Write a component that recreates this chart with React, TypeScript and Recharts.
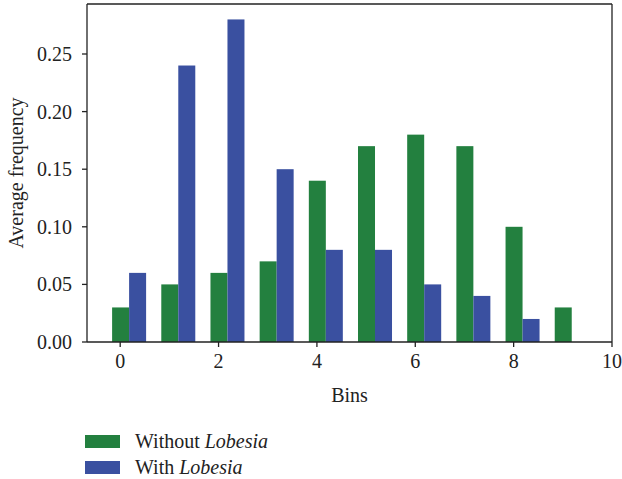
import React from 'react';
import { BarChart, Bar, XAxis, YAxis, Legend } from 'recharts';

const bins = [0, 1, 2, 3, 4, 5, 6, 7, 8, 9];
const withoutLobesia = [0.03, 0.05, 0.06, 0.07, 0.14, 0.17, 0.18, 0.17, 0.1, 0.03];
const withLobesia: (number | null)[] = [0.06, 0.24, 0.28, 0.15, 0.08, 0.08, 0.05, 0.04, 0.02, null];
const xTicks = [0, 2, 4, 6, 8, 10];
const yTicks = [0, 0.05, 0.1, 0.15, 0.2, 0.25];

const GREEN = '#23803f';
const BLUE = '#3a50a0';
const FONT = '"Liberation Serif", "DejaVu Serif", serif';
const INK = '#222';

const data = bins.map((b, i) => ({ bin: b, without: withoutLobesia[i], with: withLobesia[i] }));

const ShiftedBar = (p: any) => {
  if (p.height == null || !p.width) return null;
  return <rect x={p.x + p.width / 2} y={p.y} width={p.width} height={p.height} fill={p.fill} />;
};

const LegendContent = () => (
  <div style={{ fontFamily: FONT, fontSize: 20, color: INK }}>
    {[
      { c: GREEN, pre: 'Without ' },
      { c: BLUE, pre: 'With ' },
    ].map((it, i) => (
      <div key={i} style={{ display: 'flex', alignItems: 'center', height: 26 }}>
        <div style={{ width: 35, height: 13, background: it.c, marginRight: 15 }} />
        <span>
          {it.pre}
          <i>Lobesia</i>
        </span>
      </div>
    ))}
  </div>
);

export default function App() {
  return (
    <div style={{ position: 'absolute', left: 0, top: 0, background: '#fff' }}>
      <BarChart
        width={622}
        height={479}
        data={data}
        barGap={0}
        margin={{ top: 3, right: 9, left: 0, bottom: 67 }}
      >
        <XAxis
          xAxisId="main"
          dataKey="bin"
          type="number"
          domain={[-0.675, 10]}
          ticks={xTicks}
          allowDataOverflow
          height={70}
          stroke={INK}
          strokeWidth={1.3}
          tickSize={5}
          tickMargin={7}
          tick={{ fill: INK, fontSize: 20, fontFamily: FONT }}
          label={{ value: 'Bins', position: 'insideBottom', offset: 10, fill: INK, fontSize: 20, fontFamily: FONT }}
        />
        <XAxis
          xAxisId="top"
          dataKey="bin"
          type="number"
          orientation="top"
          domain={[-0.675, 10]}
          allowDataOverflow
          height={1}
          tick={false}
          tickLine={false}
          stroke={INK}
          strokeWidth={1.3}
        />
        <YAxis
          yAxisId="main"
          type="number"
          domain={[0, 0.2934]}
          ticks={yTicks}
          allowDataOverflow
          width={87}
          stroke={INK}
          strokeWidth={1.3}
          tickSize={5}
          tickMargin={10}
          tickFormatter={(v: number) => v.toFixed(2)}
          tick={{ fill: INK, fontSize: 20, fontFamily: FONT }}
          label={{
            value: 'Average frequency',
            angle: -90,
            position: 'insideLeft',
            offset: 16,
            fill: INK,
            fontSize: 20,
            fontFamily: FONT,
            style: { textAnchor: 'middle' },
          }}
        />
        <YAxis
          yAxisId="right"
          orientation="right"
          type="number"
          domain={[0, 0.2934]}
          allowDataOverflow
          width={1}
          tick={false}
          tickLine={false}
          stroke={INK}
          strokeWidth={1.3}
        />
        <Legend
          layout="horizontal"
          verticalAlign="middle"
          align="center"
          content={<LegendContent />}
          wrapperStyle={{ top: 428, left: 85, width: 300, height: 52 }}
        />
        <Bar
          xAxisId="main"
          yAxisId="main"
          dataKey="without"
          fill={GREEN}
          barSize={17}
          shape={<ShiftedBar />}
          isAnimationActive={false}
        />
        <Bar
          xAxisId="main"
          yAxisId="main"
          dataKey="with"
          fill={BLUE}
          barSize={17}
          shape={<ShiftedBar />}
          isAnimationActive={false}
        />
      </BarChart>
    </div>
  );
}
